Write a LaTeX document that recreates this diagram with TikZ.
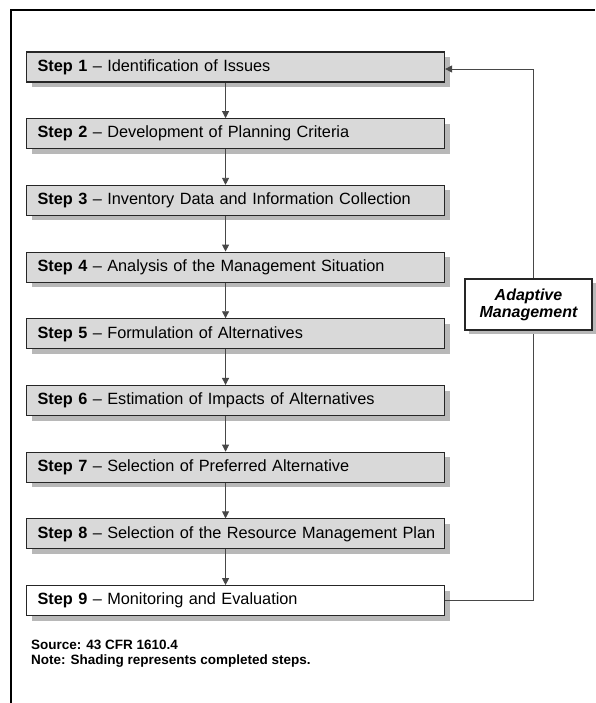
\documentclass[tikz,border=0pt]{standalone}
\usepackage{fontspec}
\setmainfont{Liberation Sans}
\usetikzlibrary{arrows.meta, positioning, shadows}

\begin{document}
\begin{tikzpicture}[x=1pt, y=-1pt, font=\fontsize{16.3}{19}\selectfont,
    stepbox/.style={draw=black!85, line width=1.1pt, fill=black!15, anchor=west,
        minimum height=30pt, text width=396pt, inner xsep=11pt, align=left,
        drop shadow={shadow xshift=5pt, shadow yshift=-5pt, fill=black!28, opacity=1}},
    adaptbox/.style={draw=black!85, line width=1.1pt, fill=white, align=center,
        minimum width=127pt, minimum height=51pt, inner sep=2pt,
        font=\bfseries\itshape\fontsize{16}{17}\selectfont,
        drop shadow={shadow xshift=4pt, shadow yshift=-4pt, fill=black!28, opacity=1}},
    flow/.style={draw=black!72, line width=0.9pt, -{Triangle[width=7pt,length=7pt]}}]
    \useasboundingbox (0,0) rectangle (595,703);
    % frame (cut off at right and bottom)
    \draw[line width=2pt] (11,703) -- (11,10) -- (595,10);
    % shaded steps
    \foreach \n/\t in {1/Identification of Issues,
                       2/Development of Planning Criteria,
                       3/Inventory Data and Information Collection,
                       4/Analysis of the Management Situation,
                       5/Formulation of Alternatives,
                       6/Estimation of Impacts of Alternatives,
                       7/Selection of Preferred Alternative,
                       8/Selection of the Resource Management Plan} {
        \node[stepbox] (step\n) at (26,{67+66.7*(\n-1)}) {\mbox{\textbf{Step \n} -- \t}};
    }
    \node[stepbox, fill=white] (step9) at (26,{67+66.7*8}) {\mbox{\textbf{Step 9} -- Monitoring and Evaluation}};
    % arrows between steps
    \foreach \a [evaluate=\a as \b using int(\a+1)] in {1,...,8} {
        \draw[flow] ([xshift=-10pt]step\a.south) -- ([xshift=-10pt]step\b.north);
    }
    % feedback loop
    \coordinate (loop) at (533,0);
    \draw[flow] (step9.east) -- (step9.east -| loop) -- ([yshift=-2pt]step1.east -| loop)
        -- ([yshift=-2pt]step1.east);
    \node[adaptbox] (adapt) at (528.5,304.5) {Adaptive\\Management};
    % notes
    \node[anchor=north west, inner sep=0pt, align=left,
        font=\bfseries\fontsize{13.5}{15}\selectfont] (source) at (31,640)
        {Source: 43 CFR 1610.4\\Note: Shading represents completed steps.};
\end{tikzpicture}
\end{document}
